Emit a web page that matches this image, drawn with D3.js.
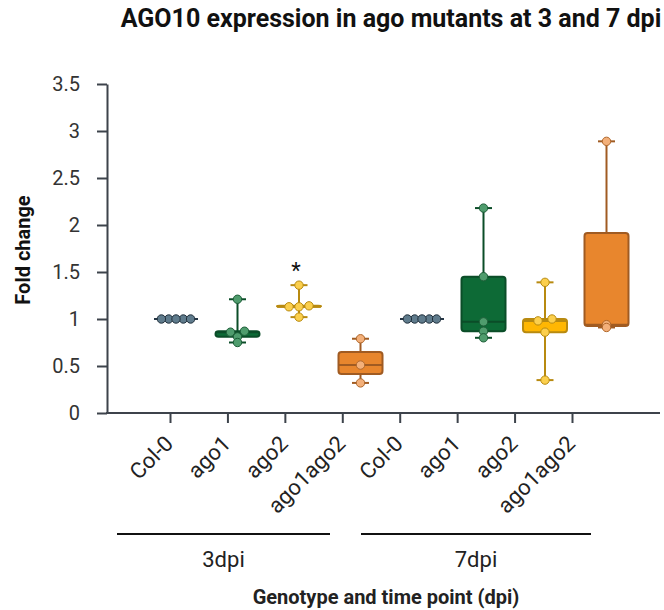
<!DOCTYPE html>
<html>
<head>
<meta charset="utf-8">
<script src="https://cdn.jsdelivr.net/npm/d3@7"></script>
<style>
  body { margin: 0; background: #fff; }
  svg { font-family: Roboto, "Noto Sans", sans-serif; }
</style>
</head>
<body>
<div id="chart"></div>
<script>
// --- Data ---
const genotypes = ["Col-0", "ago1", "ago2", "ago1ago2"];
const timePoints = ["3dpi", "7dpi"];
const values3dpi = [
  [1, 1, 1, 1, 1],
  [1.21, 0.87, 0.86, 0.81, 0.75],
  [1.36, 1.14, 1.13, 1.13, 1.02],
  [0.79, 0.51, 0.32]
];
const values7dpi = [
  [1, 1, 1, 1, 1],
  [2.18, 1.45, 0.97, 0.87, 0.80],
  [1.39, 1.00, 0.98, 0.86, 0.35],
  [2.89, 0.94, 0.91]
];
const yTicks = [0, 0.5, 1, 1.5, 2, 2.5, 3, 3.5];
const significant = ["3dpi|ago2"];

// --- Styles ---
const palette = {
  "Col-0":    { fill: "#5b7686", stroke: "#263645", dot: "#5f7b8c", dotStroke: "#22313d" },
  "ago1":     { fill: "#0d6a36", stroke: "#0b4d28", dot: "#4f9c6d", dotStroke: "#1d5e38" },
  "ago2":     { fill: "#ffb703", stroke: "#b88a10", dot: "#fbcf4d", dotStroke: "#b88a10" },
  "ago1ago2": { fill: "#e8862d", stroke: "#a05b22", dot: "#f3b07a", dotStroke: "#b0672b" }
};
const axisColor = "#3d434b";
const width = 664, height = 610;
const boxWidth = 44, capWidth = 17, dotR = 4.2;

// group brackets under the axis labels
const groupSpans = [
  { label: "3dpi", x1: 117, x2: 330 },
  { label: "7dpi", x1: 361, x2: 591 }
];

// Build rows of {key, time, genotype, values}
const rows = [];
[values3dpi, values7dpi].forEach((set, t) => {
  set.forEach((vals, g) => {
    rows.push({ key: timePoints[t] + "|" + genotypes[g], time: timePoints[t], genotype: genotypes[g], values: vals });
  });
});

// Box statistics (linear quantiles)
rows.forEach(r => {
  const s = r.values.slice().sort(d3.ascending);
  r.min = s[0];
  r.max = s[s.length - 1];
  r.q1 = d3.quantile(s, 0.25);
  r.median = d3.quantile(s, 0.5);
  r.q3 = d3.quantile(s, 0.75);
});

// Spread near-equal values sideways
function dodge(vals) {
  const sorted = vals.map(v => ({ v })).sort((a, b) => b.v - a.v);
  let k = 0;
  while (k < sorted.length) {
    const grp = [sorted[k]];
    let j = k + 1;
    while (j < sorted.length && sorted[k].v - sorted[j].v <= 0.025) grp.push(sorted[j++]);
    const n = grp.length, half = Math.floor(n / 2);
    const slots = (n % 2 ? [1, -1, 0, 2, -2, 3, -3] : [1, -1, 2, -2, 3, -3]).filter(s => Math.abs(s) <= half);
    const step = n > 3 ? 7.3 : n === 3 ? 10 : 7;
    grp.forEach((p, i) => { p.off = slots[i] * step; });
    k = j;
  }
  return sorted;
}

// --- Scales ---
const keys = rows.map(r => r.key);
const x = d3.scalePoint().domain(keys).range([176, 606.5]);
const xTick = d3.scalePoint().domain(keys).range([170, 572]);
const y = d3.scaleLinear().domain([0, 3.5]).range([413, 84]);

const svg = d3.select("#chart").append("svg")
  .attr("width", width)
  .attr("height", height);

// Title
svg.append("text")
  .attr("x", 391).attr("y", 27)
  .attr("text-anchor", "middle")
  .style("font-size", "25px").style("font-weight", "bold").style("fill", "#111")
  .text("AGO10 expression in ago mutants at 3 and 7 dpi");

// --- Y axis ---
const yAxis = svg.append("g")
  .attr("transform", "translate(107,0)")
  .call(d3.axisLeft(y).tickValues(yTicks).tickSize(10).tickPadding(17).tickSizeOuter(0).tickFormat(d => String(d)));
yAxis.select(".domain").attr("stroke", axisColor).attr("stroke-width", 2);
yAxis.selectAll(".tick line").attr("stroke", axisColor).attr("stroke-width", 2);
yAxis.selectAll(".tick text")
  .attr("x", -27)
  .style("font-size", "20px").style("fill", "#333").style("font-family", "Roboto, sans-serif");

svg.append("text")
  .attr("transform", "translate(30,250) rotate(-90)")
  .attr("text-anchor", "middle")
  .style("font-size", "20px").style("font-weight", "bold").style("fill", "#111")
  .text("Fold change");

// --- X axis ---
svg.append("line")
  .attr("x1", 106).attr("x2", 660)
  .attr("y1", y(0)).attr("y2", y(0))
  .attr("stroke", axisColor).attr("stroke-width", 2);

const xAxis = svg.append("g")
  .attr("transform", `translate(0,${y(0)})`)
  .call(d3.axisBottom(xTick).tickSize(10).tickSizeOuter(0).tickFormat(k => k.split("|")[1]));
xAxis.select(".domain").remove();
xAxis.selectAll(".tick line").attr("stroke", axisColor).attr("stroke-width", 2);
xAxis.selectAll(".tick text")
  .attr("x", 0).attr("y", 0).attr("dy", 0)
  .attr("text-anchor", "end")
  .attr("transform", "translate(4,32) rotate(-45)")
  .style("font-size", "22px").style("fill", "#222").style("font-family", "Roboto, sans-serif");

// Group brackets
const groups = svg.append("g");
groups.selectAll("line").data(groupSpans).join("line")
  .attr("x1", d => d.x1).attr("x2", d => d.x2)
  .attr("y1", 534).attr("y2", 534)
  .attr("stroke", "#111").attr("stroke-width", 2);
groups.selectAll("text").data(groupSpans).join("text")
  .attr("x", d => (d.x1 + d.x2) / 2).attr("y", 567)
  .attr("text-anchor", "middle")
  .style("font-size", "22px").style("fill", "#222")
  .text(d => d.label);

svg.append("text")
  .attr("x", 386).attr("y", 604)
  .attr("text-anchor", "middle")
  .style("font-size", "20px").style("font-weight", "bold").style("fill", "#222")
  .text("Genotype and time point (dpi)");

// --- Boxes ---
const box = svg.append("g").selectAll("g.box").data(rows).join("g")
  .attr("class", "box")
  .attr("transform", d => `translate(${x(d.key)},0)`);

// whisker
box.append("line")
  .attr("y1", d => y(d.min)).attr("y2", d => y(d.max))
  .attr("stroke", d => palette[d.genotype].stroke).attr("stroke-width", 2);
// caps
box.selectAll("line.cap").data(d => [d.min, d.max].map(v => ({ v, g: d.genotype }))).join("line")
  .attr("class", "cap")
  .attr("x1", -capWidth / 2).attr("x2", capWidth / 2)
  .attr("y1", d => y(d.v)).attr("y2", d => y(d.v))
  .attr("stroke", d => palette[d.g].stroke).attr("stroke-width", 2);
// box body
box.append("rect")
  .attr("x", -boxWidth / 2).attr("width", boxWidth)
  .attr("y", d => y(d.q3)).attr("height", d => y(d.q1) - y(d.q3))
  .attr("rx", 3)
  .attr("fill", d => palette[d.genotype].fill)
  .attr("stroke", d => palette[d.genotype].stroke).attr("stroke-width", 2);
// median
box.append("line")
  .attr("x1", -boxWidth / 2).attr("x2", boxWidth / 2)
  .attr("y1", d => y(d.median)).attr("y2", d => y(d.median))
  .attr("stroke", d => palette[d.genotype].stroke).attr("stroke-width", 2);

// points
box.selectAll("circle").data(d => dodge(d.values).map(p => ({ ...p, g: d.genotype }))).join("circle")
  .attr("cx", d => d.off)
  .attr("cy", d => y(d.v))
  .attr("r", dotR)
  .attr("fill", d => palette[d.g].dot)
  .attr("stroke", d => palette[d.g].dotStroke).attr("stroke-width", 1);

// significance marks
svg.append("g").selectAll("text").data(rows.filter(r => significant.includes(r.key))).join("text")
  .attr("x", d => x(d.key) - 3)
  .attr("y", d => y(d.max) - 7)
  .attr("text-anchor", "middle")
  .style("font-size", "22px").style("fill", "#111")
  .text("*");
</script>
</body>
</html>
